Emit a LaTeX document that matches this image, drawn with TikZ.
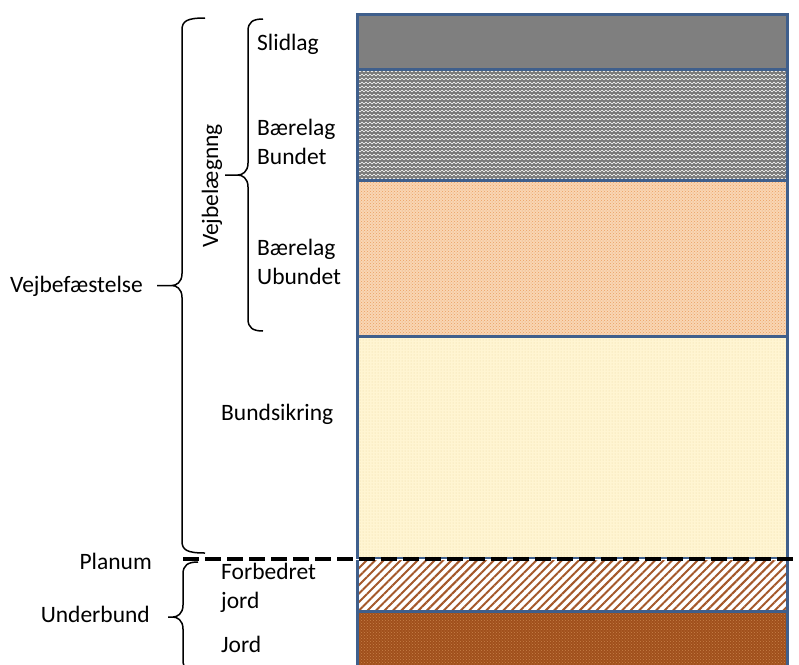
\documentclass[tikz,border=0pt]{standalone}
\usepackage{fontspec}
\setmainfont{Carlito}
\usepackage{xcolor}
\usetikzlibrary{patterns,patterns.meta}
\definecolor{layerblue}{HTML}{3F5F8C}
\definecolor{slidgray}{HTML}{7F7F7F}
\definecolor{bundetgray}{HTML}{7A7A7A}
\definecolor{ubundettint}{HTML}{F9D6B4}
\definecolor{ubundetdot}{HTML}{EBA062}
\definecolor{sikringtint}{HTML}{FFF5D2}
\definecolor{sikringdot}{HTML}{EBD8A0}
\definecolor{jordbrown}{HTML}{A0501C}
\definecolor{jorddot}{HTML}{C8804A}
\definecolor{hatchbrown}{HTML}{A4582A}
\pgfdeclarepatternformonly{zigzag}{\pgfqpoint{-1pt}{-1pt}}{\pgfqpoint{5pt}{5pt}}{\pgfqpoint{4pt}{4pt}}{%
  \pgfsetlinewidth{0.6pt}
  \pgfpathmoveto{\pgfqpoint{0pt}{0pt}}
  \pgfpathlineto{\pgfqpoint{2pt}{2pt}}
  \pgfpathlineto{\pgfqpoint{4pt}{0pt}}
  \pgfusepath{stroke}}
\tikzset{
  layerborder/.style={draw=layerblue,line width=3pt},
  layerlabel/.style={anchor=west,inner sep=0pt,align=left,font=\fontsize{23.5}{29}\selectfont},
  grouplabel/.style={anchor=east,inner sep=0pt,font=\fontsize{23.5}{29}\selectfont},
  bracepath/.style={draw=black,line width=1.5pt},
  planumline/.style={line width=4pt,dash pattern=on 16pt off 6pt,preaction={draw=white,solid}},
}
% brace: end x, line x, tip x, top y, bottom y
\newcommand{\groupbrace}[5]{%
  \draw[bracepath] (#1,#4) .. controls (#2+5,#4) and (#2,#4+3) .. (#2,#4+12)
    -- (#2,{(#4+#5)/2-12}) .. controls (#2,{(#4+#5)/2-3}) and (#2-6,{(#4+#5)/2}) .. (#2-10,{(#4+#5)/2})
    -- (#3,{(#4+#5)/2}) -- (#2-10,{(#4+#5)/2})
    .. controls (#2-6,{(#4+#5)/2}) and (#2,{(#4+#5)/2+3}) .. (#2,{(#4+#5)/2+12})
    -- (#2,#5-12) .. controls (#2,#5-3) and (#2+5,#5) .. (#1,#5);}

\begin{document}
\begin{tikzpicture}[x=1pt,y=-1pt]
  \useasboundingbox (0,0) rectangle (799,664);
  \fill[slidgray] (357,14) rectangle (787,69);
  \fill[bundetgray,postaction={pattern=zigzag,pattern color=white}] (357,69) rectangle (787,180);
  \fill[ubundettint,postaction={pattern=crosshatch dots,pattern color=ubundetdot}] (357,180) rectangle (787,336);
  \fill[sikringtint,postaction={pattern=dots,pattern color=sikringdot}] (357,336) rectangle (787,558);
  \fill[white,postaction={pattern={Lines[angle=45,distance=6pt,line width=2pt]},pattern color=hatchbrown}] (357,558) rectangle (787,611);
  \fill[jordbrown,postaction={pattern=crosshatch dots,pattern color=jorddot}] (357,611) rectangle (787,672);
  \draw[layerborder] (357,14) rectangle (787,69);
  \draw[layerborder] (357,69) rectangle (787,180);
  \draw[layerborder] (357,180) rectangle (787,336);
  \draw[layerborder] (357,336) rectangle (787,558);
  \draw[layerborder] (357,558) rectangle (787,611);
  \draw[layerborder] (357,611) rectangle (787,672);

  \node[layerlabel] (slidlag) at (257,44) {Slidlag};
  \node[layerlabel] (bundet) at (257,142) {Bærelag\\Bundet};
  \node[layerlabel] (ubundet) at (257,262) {Bærelag\\Ubundet};
  \node[layerlabel] (bundsikring) at (221,414) {Bundsikring};
  \node[layerlabel] (forbedret) at (221,588) {Forbedret\\jord};
  \node[layerlabel] (jord) at (221,644) {Jord};
  \node[grouplabel] (vejbefaestelse) at (143,286) {Vejbefæstelse};
  \node[grouplabel] (planum) at (152,561) {Planum};
  \node[grouplabel] (underbund) at (150,614) {Underbund};
  \node[inner sep=0pt,rotate=90,font=\fontsize{23.5}{29}\selectfont] (vejbelaegning) at (212,186) {Vejbelægnng};

  \groupbrace{205}{182}{157}{18}{553}
  \groupbrace{263}{248}{225}{19}{331}
  \groupbrace{198}{183}{168}{562}{672}
  \coordinate (planum start) at (183,559);
  \coordinate (planum end) at (799,559);
  \draw[planumline] (planum start) -- (planum end);
\end{tikzpicture}
\end{document}
